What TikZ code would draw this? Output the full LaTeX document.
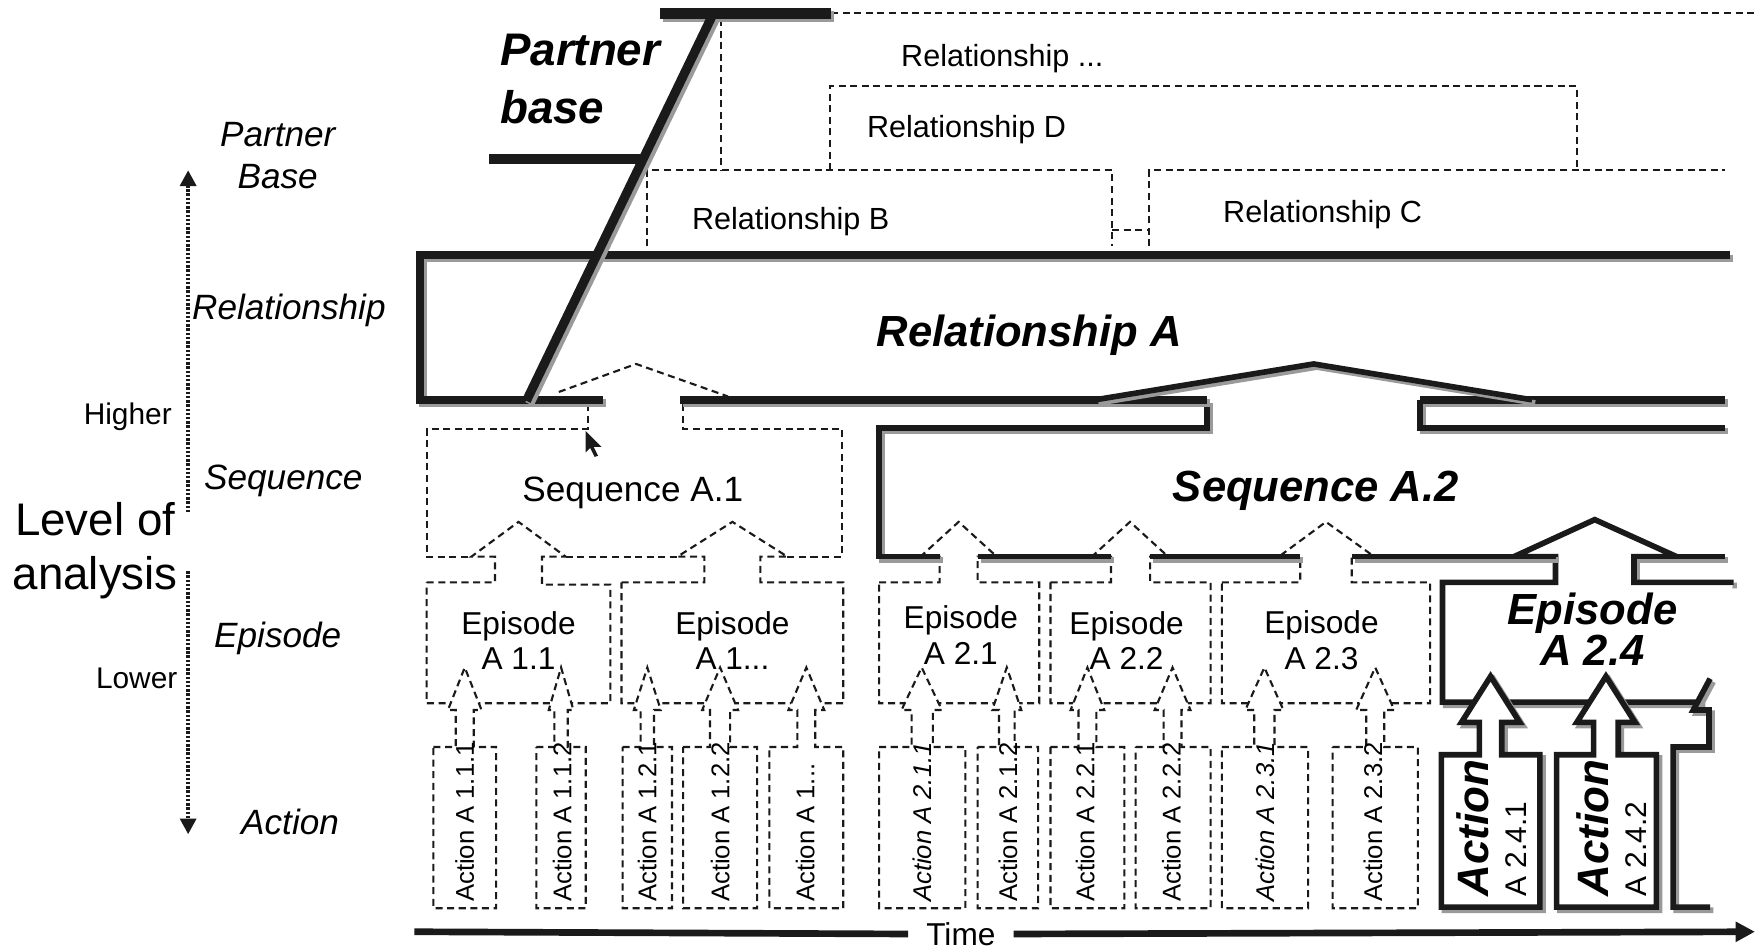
\documentclass[tikz,border=0pt]{standalone}
\usepackage{fontspec}
\setmainfont{Liberation Sans}
\usetikzlibrary{arrows.meta}
\definecolor{RLShadow}{HTML}{9A9A9A}
\definecolor{RLInk}{HTML}{1A1A1A}

\begin{document}
\begin{tikzpicture}[x=0.0112cm,y=-0.0112cm,
  dashline/.style={RLInk,line width=.6pt,dash pattern=on 2pt off 1.3pt},
  shadowed/.style={RLInk,line width=#1,line join=miter,preaction={draw=RLShadow,line width=#1,transform canvas={shift={(.9pt,-.9pt)}}}},
  relline/.style={shadowed=2.2pt},
  seqline/.style={shadowed=1.6pt},
  pbbar/.style={shadowed=2.9pt},
  axisdots/.style={RLInk,line width=1.2pt,dash pattern=on .7pt off .5pt},
  lvl/.style={font=\fontsize{10}{11.8}\selectfont\itshape,align=center,inner sep=0pt},
  relt/.style={font=\fontsize{8.7}{10}\selectfont,inner sep=0pt},
  epit/.style={font=\fontsize{9}{10.2}\selectfont,align=center,inner sep=0pt},
  bigt/.style={font=\fontsize{12.4}{11.8}\selectfont\bfseries\itshape,inner sep=0pt},
  actt/.style={rotate=90,anchor=west,inner sep=0pt,font=\fontsize{7.3}{8}\selectfont},
  actbig/.style={rotate=90,anchor=west,inner sep=0pt,font=\fontsize{12.5}{13}\selectfont\bfseries\itshape},
  actsm/.style={rotate=90,anchor=west,inner sep=0pt,font=\fontsize{8.5}{9}\selectfont}]
\path[use as bounding box] (0,0) rectangle (1568,846);
\fill[white] (0,0) rectangle (1568,846);

% relationships of the partner base
\draw[dashline] (742,12) -- (1568,12);
\draw[dashline] (644,17) -- (644,152);
\draw[dashline] (741,152) -- (741,77) -- (1408,77) -- (1408,152);
\draw[dashline] (578,220) -- (578,152) -- (993,152) -- (993,220);
\draw[dashline] (993,205) -- (1026,205);
\draw[dashline] (1026,220) -- (1026,152) -- (1540,152);

% sequence A.1
\draw[dashline] (525,361) -- (525,383) -- (381,383) -- (381,497) -- (421,497)
  (505,497) -- (605,497) (703,497) -- (752,497) -- (752,383) -- (610,383) -- (610,361);
\draw[dashline] (499,350) -- (568,325) -- (650,354);

% episodes
\draw[dashline,fill=white] (381,520) -- (442,520) -- (442,497) -- (421,497) -- (463,466) -- (505,497) -- (484,497) -- (484,522) -- (545,522) -- (545,628) -- (381,628) -- cycle;
\draw[dashline,fill=white] (555,520) -- (629,520) -- (629,497) -- (605,497) -- (654,466) -- (703,497) -- (679,497) -- (679,520) -- (753,520) -- (753,628) -- (555,628) -- cycle;
\draw[dashline,fill=white] (785,520) -- (839,520) -- (839,497) -- (822,497) -- (856,466) -- (890,497) -- (873,497) -- (873,520) -- (928,520) -- (928,628) -- (785,628) -- cycle;
\draw[dashline,fill=white] (938,520) -- (992,520) -- (992,497) -- (975,497) -- (1009,466) -- (1043,497) -- (1027,497) -- (1027,520) -- (1081,520) -- (1081,628) -- (938,628) -- cycle;
\draw[dashline,fill=white] (1091,520) -- (1161,520) -- (1161,497) -- (1142,497) -- (1184,466) -- (1227,497) -- (1207,497) -- (1207,520) -- (1277,520) -- (1277,628) -- (1091,628) -- cycle;
\draw[seqline,fill=white] (1548,520) -- (1459,520) -- (1459,497) -- (1497,497) -- (1424,464) -- (1352,497) -- (1389,497) -- (1389,520) -- (1288,520) -- (1288,627) -- (1520,627);

% sequence A.2 and relationship A
\draw[seqline] (1078,357) -- (1078,382) -- (785,382) -- (785,497) -- (839,497)
  (873,497) -- (992,497) (1027,497) -- (1161,497) (1207,497) -- (1389,497) (1459,497) -- (1540,497)
  (1268,357) -- (1268,382) -- (1540,382);
\draw[relline] (1545,228) -- (375,228) -- (375,357) -- (538,357);
\draw[relline] (607,357) -- (1078,357);
\draw[relline] (1268,357) -- (1540,357);
\draw[seqline] (978,357) -- (1173,325) -- (1368,357);

% partner base
\draw[pbbar] (589,12) -- (742,12);
\draw[RLInk,line width=2.9pt] (437,142) -- (575,142);
\draw[shadowed=2.6pt] (636,14) -- (470,358);

% actions
\draw[dashline,fill=white] (387,667) -- (407,667) -- (407,634) -- (400,634) -- (415,596) -- (430,634) -- (423,634) -- (423,667) -- (443,667) -- (443,811) -- (387,811) -- cycle;
\draw[dashline,fill=white] (479,667) -- (495,667) -- (495,634) -- (490,634) -- (501,596) -- (512,634) -- (507,634) -- (507,667) -- (523,667) -- (523,811) -- (479,811) -- cycle;
\draw[dashline,fill=white] (556,667) -- (572,667) -- (572,634) -- (566,634) -- (578,596) -- (590,634) -- (584,634) -- (584,667) -- (600,667) -- (600,811) -- (556,811) -- cycle;
\draw[dashline,fill=white] (610,667) -- (634,667) -- (634,634) -- (627,634) -- (643,596) -- (659,634) -- (652,634) -- (652,667) -- (676,667) -- (676,811) -- (610,811) -- cycle;
\draw[dashline,fill=white] (687,667) -- (712,667) -- (712,634) -- (704,634) -- (720,596) -- (736,634) -- (728,634) -- (728,667) -- (753,667) -- (753,811) -- (687,811) -- cycle;
\draw[dashline,fill=white] (785,667) -- (814,667) -- (814,634) -- (805,634) -- (823,596) -- (841,634) -- (833,634) -- (833,667) -- (862,667) -- (862,811) -- (785,811) -- cycle;
\draw[dashline,fill=white] (873,667) -- (892,667) -- (892,634) -- (886,634) -- (899,596) -- (912,634) -- (906,634) -- (906,667) -- (927,667) -- (927,811) -- (873,811) -- cycle;
\draw[dashline,fill=white] (938,667) -- (963,667) -- (963,634) -- (956,634) -- (971,596) -- (986,634) -- (979,634) -- (979,667) -- (1004,667) -- (1004,811) -- (938,811) -- cycle;
\draw[dashline,fill=white] (1014,667) -- (1039,667) -- (1039,634) -- (1031,634) -- (1047,596) -- (1063,634) -- (1055,634) -- (1055,667) -- (1081,667) -- (1081,811) -- (1014,811) -- cycle;
\draw[dashline,fill=white] (1091,667) -- (1120,667) -- (1120,634) -- (1112,634) -- (1129,596) -- (1146,634) -- (1138,634) -- (1138,667) -- (1168,667) -- (1168,811) -- (1091,811) -- cycle;
\draw[dashline,fill=white] (1190,667) -- (1220,667) -- (1220,634) -- (1211,634) -- (1228,596) -- (1245,634) -- (1236,634) -- (1236,667) -- (1266,667) -- (1266,811) -- (1190,811) -- cycle;
\draw[seqline,fill=white] (1287,674) -- (1321,674) -- (1321,645) -- (1305,645) -- (1331,604) -- (1357,645) -- (1341,645) -- (1341,674) -- (1375,674) -- (1375,810) -- (1287,810) -- cycle;
\draw[seqline,fill=white] (1390,674) -- (1423,674) -- (1423,645) -- (1408,645) -- (1434,604) -- (1460,645) -- (1445,645) -- (1445,674) -- (1479,674) -- (1479,810) -- (1390,810) -- cycle;
\draw[seqline] (1527,810) -- (1494,810) -- (1494,667) -- (1526,667) -- (1526,634) -- (1512,634) -- (1527,606);

% pointer
\fill[RLInk] (523,385) -- (523,404) -- (527,400) -- (531,408) -- (534,407) -- (530,399) -- (537,399) -- cycle;

% level of analysis
\coordinate (axtop) at (168,152);
\coordinate (axhi) at (168,458);
\coordinate (axlo) at (168,510);
\coordinate (axbot) at (168,745);
\draw[axisdots,{Triangle[length=4.5pt,width=4.5pt]}-] (axtop) -- (axhi);
\draw[axisdots,-{Triangle[length=4.5pt,width=4.5pt]}] (axlo) -- (axbot);
\node[font=\fontsize{13}{15.3}\selectfont,align=center,inner sep=0pt] (loa) at (85,492) {Level of\\analysis};
\node[font=\fontsize{8.5}{10}\selectfont,anchor=east,inner sep=0pt] (lhi) at (154,372) {Higher};
\node[font=\fontsize{8.5}{10}\selectfont,anchor=east,inner sep=0pt] (llo) at (159,606) {Lower};
\node[lvl] (lpb) at (248,139) {Partner\\Base};
\node[lvl] (lrel) at (258,277) {Relationship};
\node[lvl] (lseq) at (253,429) {Sequence};
\node[lvl] (lepi) at (248,570) {Episode};
\node[lvl] (lact) at (259,734) {Action};

% time
\node[font=\fontsize{9}{10}\selectfont,inner ysep=0pt,inner xsep=5pt] (time) at (858,834) {Time};
\coordinate (tstart) at (370,832);
\coordinate (tend) at (1567,832);
\draw[RLInk,line width=1.9pt] (tstart) -- (time.west);
\draw[RLInk,line width=1.9pt,-{Triangle[length=5.5pt,width=5.5pt]}] (time.east) -- (tend);

% labels
\node[bigt,font=\fontsize{13}{16.5}\selectfont\bfseries\itshape,align=left,anchor=north west] (pb) at (446,30) {Partner\\base};
\node[relt] (rmore) at (895,52) {Relationship ...};
\node[relt] (rd) at (863,116) {Relationship D};
\node[relt] (rb) at (706,198) {Relationship B};
\node[relt] (rc) at (1181,192) {Relationship C};
\node[bigt] (ra) at (919,299) {Relationship A};
\node[font=\fontsize{10}{12}\selectfont,inner sep=0pt] (sa1) at (565,440) {Sequence A.1};
\node[bigt] (sa2) at (1175,438) {Sequence A.2};
\node[epit] (e11) at (463,572) {Episode\\A 1.1};
\node[epit] (e1x) at (654,572) {Episode\\A 1...};
\node[epit] (e21) at (858,567) {Episode\\A 2.1};
\node[epit] (e22) at (1006,572) {Episode\\A 2.2};
\node[epit] (e23) at (1180,572) {Episode\\A 2.3};
\node[bigt,align=center] (e24) at (1422,562) {Episode\\A 2.4};
\node[actt] (a111) at (415,806) {Action A 1.1.1};
\node[actt] (a112) at (502,806) {Action A 1.1.2};
\node[actt] (a121) at (578,806) {Action A 1.2.1};
\node[actt] (a122) at (643,806) {Action A 1.2.2};
\node[actt] (a1x) at (719,806) {Action A 1...};
\node[actt,font=\fontsize{7.3}{8}\selectfont\itshape] (a211) at (824,806) {Action A 2.1.1};
\node[actt] (a212) at (900,806) {Action A 2.1.2};
\node[actt] (a221) at (969,806) {Action A 2.2.1};
\node[actt] (a222) at (1046,806) {Action A 2.2.2};
\node[actt,font=\fontsize{7.3}{8}\selectfont\itshape] (a231) at (1130,806) {Action A 2.3.1};
\node[actt] (a232) at (1226,806) {Action A 2.3.2};
\node[actbig] (a241) at (1315,801) {Action};
\node[actsm] (a241n) at (1354,801) {A 2.4.1};
\node[actbig] (a242) at (1422,801) {Action};
\node[actsm] (a242n) at (1461,801) {A 2.4.2};
\end{tikzpicture}
\end{document}
